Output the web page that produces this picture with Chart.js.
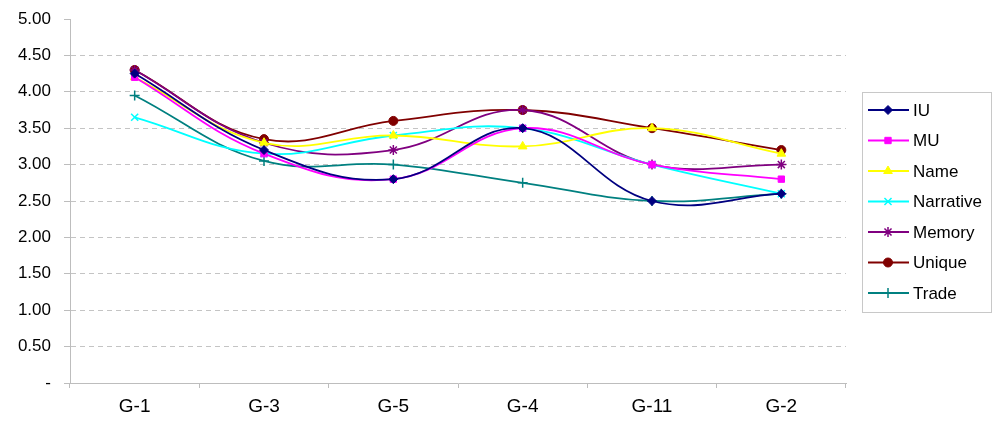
<!DOCTYPE html>
<html>
<head>
<meta charset="utf-8">
<script src="https://cdn.jsdelivr.net/npm/chart.js@4"></script>
<style>
  html, body { margin: 0; padding: 0; background: #fff; }
  #wrap { width: 998px; height: 423px; position: relative; }
</style>
</head>
<body>
<div id="wrap"><canvas id="myChart"></canvas></div>
<script>
const categories = ['G-1', 'G-3', 'G-5', 'G-4', 'G-11', 'G-2'];

const iuValues        = [4.25, 3.20, 2.80, 3.50, 2.50, 2.60];
const muValues        = [4.20, 3.15, 2.80, 3.50, 3.00, 2.80];
const nameValues      = [4.20, 3.30, 3.40, 3.25, 3.50, 3.15];
const narrativeValues = [3.65, 3.15, 3.40, 3.50, 3.00, 2.60];
const memoryValues    = [4.30, 3.30, 3.20, 3.75, 3.00, 3.00];
const uniqueValues    = [4.30, 3.35, 3.60, 3.75, 3.50, 3.20];
const tradeValues     = [3.95, 3.05, 3.00, 2.75, 2.50, 2.60];

const yTicks = [0, 0.5, 1, 1.5, 2, 2.5, 3, 3.5, 4, 4.5, 5];

function series(label, data, color, style, radius) {
	return {
		label: label,
		data: data,
		borderColor: color,
		backgroundColor: color,
		pointStyle: style,
		pointRadius: radius,
		pointBorderWidth: style === 'crossRot' || style === 'cross' || style === 'star' ? 1.5 : 1,
		borderWidth: 1.8,
		tension: 0.4,
		fill: false,
	};
}

// legend box drawn by hand: line + marker, framed
const boxLegend = {
	id: 'boxLegend',
	afterDraw(chart) {
		const ctx = chart.ctx;
		ctx.save();
		ctx.strokeStyle = '#c8c8c8';
		ctx.lineWidth = 1;
		ctx.strokeRect(862.5, 92.5, 129, 220);
		ctx.font = '17px "Liberation Sans", Arial, sans-serif';
		ctx.textBaseline = 'middle';
		chart.data.datasets.forEach((ds, i) => {
			const y = 110 + i * 30.5;
			ctx.strokeStyle = ds.borderColor;
			ctx.lineWidth = 1.8;
			ctx.beginPath();
			ctx.moveTo(868, y);
			ctx.lineTo(909, y);
			ctx.stroke();
			ctx.fillStyle = ds.backgroundColor;
			ctx.lineWidth = ds.pointBorderWidth;
			Chart.helpers.drawPoint(ctx, {
				pointStyle: ds.pointStyle,
				radius: ds.pointRadius,
				rotation: 0,
				borderWidth: ds.pointBorderWidth,
			}, 888, y);
			ctx.fillStyle = '#000';
			ctx.fillText(ds.label, 913, y + 1);
		});
		ctx.restore();
	},
};

const ctx = document.getElementById('myChart');
const myChart = new Chart(ctx, {
	type: 'line',
	data: {
		labels: categories,
		datasets: [
			series('IU', iuValues, '#000080', 'rectRot', 4.5),
			series('MU', muValues, '#ff00ff', 'rect', 4.5),
			series('Name', nameValues, '#ffff00', 'triangle', 5),
			series('Narrative', narrativeValues, '#00ffff', 'crossRot', 5),
			series('Memory', memoryValues, '#800080', 'star', 5),
			series('Unique', uniqueValues, '#800000', 'circle', 4.5),
			series('Trade', tradeValues, '#008080', 'cross', 5),
		],
	},
	options: {
		responsive: true,
		maintainAspectRatio: false,
		animation: false,
		layout: { padding: { top: 19, right: 152, bottom: 0, left: 0 } },
		plugins: {
			legend: { display: false },
			tooltip: { enabled: false },
		},
		scales: {
			x: {
				offset: true,
				afterFit: (scale) => { scale.height = 40; },
				grid: {
					offset: true,
					drawOnChartArea: false,
					tickLength: 5,
					tickColor: '#bdbdbd',
				},
				border: { color: '#bdbdbd', width: 1 },
				ticks: {
					color: '#000',
					padding: 7,
					font: { family: '"Liberation Sans", Arial, sans-serif', size: 19 },
				},
			},
			y: {
				min: 0,
				max: 5,
				afterFit: (scale) => { scale.width = 70; scale.paddingTop = 0; },
				afterBuildTicks: (scale) => {
					scale.ticks = yTicks.map((v) => ({ value: v }));
				},
				grid: {
					color: (c) => (c.tick && (c.tick.value === 0 || c.tick.value === 5) ? 'rgba(0,0,0,0)' : '#c4c4c4'),
					tickLength: 6,
					tickColor: '#bdbdbd',
					tickBorderDash: [],
				},
				border: { color: '#bdbdbd', width: 1, dash: [5, 4] },
				ticks: {
					color: '#000',
					padding: 13,
					font: { family: '"Liberation Sans", Arial, sans-serif', size: 17 },
					callback: (v) => (v === 0 ? '-' : v.toFixed(2)),
				},
			},
		},
	},
	plugins: [boxLegend],
});
</script>
</body>
</html>
